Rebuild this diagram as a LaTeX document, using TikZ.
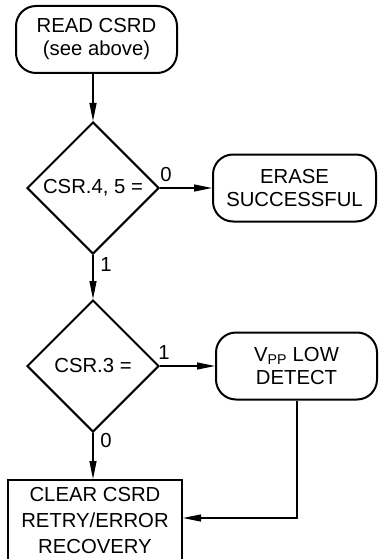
\documentclass[tikz,border=0pt]{standalone}
\usepackage{fontspec}
\setmainfont{Liberation Sans}
\usetikzlibrary{shapes.geometric,arrows.meta}
\begin{document}
\begin{tikzpicture}[x=1pt,y=-1pt,
  every node/.style={font=\fontsize{20.3}{23}\selectfont},
  term/.style={draw,line width=2pt,rounded corners=20pt,minimum width=#1,minimum height=67pt,inner sep=0pt,align=center},
  term/.default=161pt,
  dec/.style={draw,diamond,line width=2pt,minimum width=132pt,minimum height=132pt,inner sep=0pt},
  proc/.style={draw,line width=2pt,minimum width=174pt,minimum height=82pt,inner sep=0pt,align=center},
  conn/.style={line width=1.2pt,-{Triangle[length=18pt,width=7pt]}},
  lab/.style={inner sep=0pt}
]
\useasboundingbox (0,0) rectangle (378,559);
\node[term] (read) at (96.5,39.5) {READ CSRD\\(see above)};
\node[dec] (d1) at (93,188) {CSR.4, 5 =};
\node[term=163pt] (erase) at (294.5,188) {ERASE\\SUCCESSFUL};
\node[dec] (d2) at (93,366) {CSR.3 =};
\node[term=161pt] (vpp) at (296.5,366) {V\textsubscript{PP} LOW\\DETECT};
\node[proc,font=\fontsize{20.3}{26}\selectfont] (clr) at (95,521) {CLEAR CSRD\\RETRY/ERROR\\RECOVERY};
\coordinate (corner) at (297,518);
\draw[conn] (read.south -| d1.north) -- (d1.north);
\draw[conn] (d1.east) -- (erase.west);
\draw[conn] (d1.south) -- (d2.north);
\draw[conn] (d2.east) -- (vpp.west);
\draw[conn] (d2.south) -- (d2.south |- clr.north);
\draw[conn] (vpp.south -| corner) -- (corner) -- (corner -| clr.east);
\node[lab] (l0a) at (166,175) {0};
\node[lab] (l1a) at (106,265) {1};
\node[lab] (l1b) at (164,353) {1};
\node[lab] (l0b) at (106,441) {0};
\end{tikzpicture}
\end{document}
